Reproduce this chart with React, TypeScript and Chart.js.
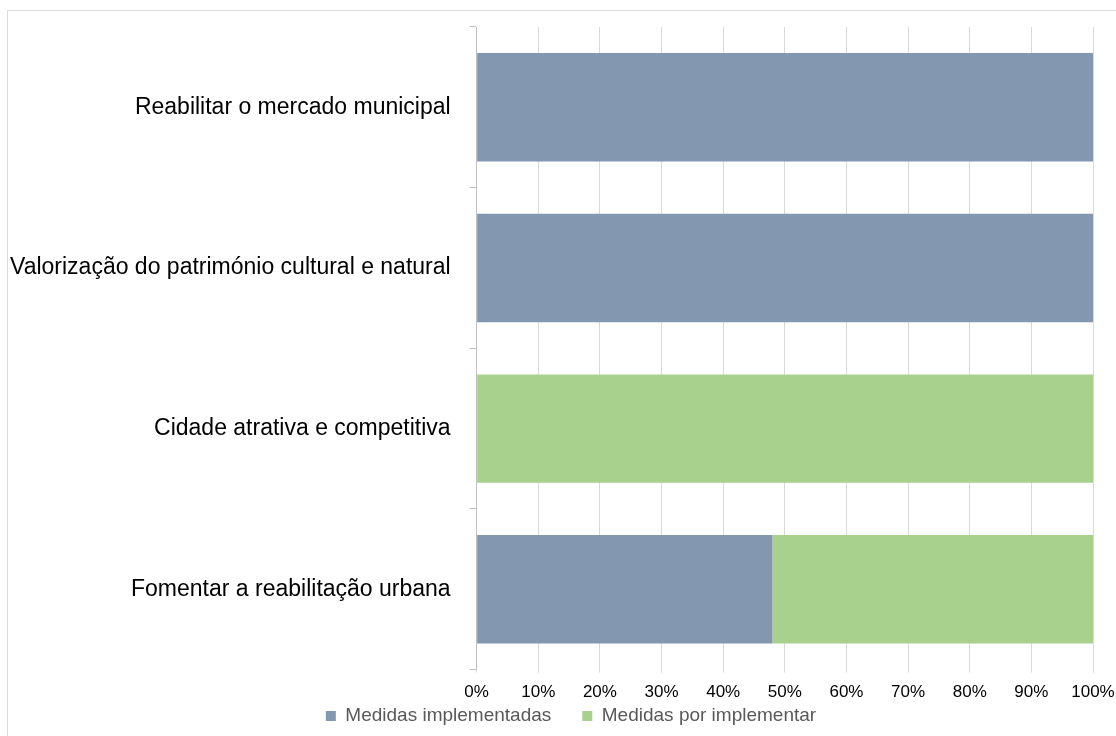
import React, { useEffect, useRef } from "react";
import { Chart, registerables } from "chart.js";

Chart.register(...registerables);

const categories = [
  "Reabilitar o mercado municipal",
  "Valorização do património cultural e natural",
  "Cidade atrativa e competitiva",
  "Fomentar a reabilitação urbana",
];
const implementadas = [100, 100, 0, 48];
const porImplementar = [0, 0, 100, 52];
const xTicks = [0, 10, 20, 30, 40, 50, 60, 70, 80, 90, 100];

const FONT = "'Liberation Sans', Arial, sans-serif";

const legendShift = {
  id: "legendShift",
  afterLayout(chart: any) {
    const l = chart.legend;
    if (l) {
      const dy = 37.5;
      const dx = 20;
      l.top -= dy;
      l.bottom -= dy;
      l.left += dx;
      l.right += dx;
    }
  },
};

export default function App() {
  const ref = useRef<HTMLCanvasElement | null>(null);
  useEffect(() => {
    if (!ref.current) return;
    const chart = new Chart(ref.current, {
      type: "bar",
      data: {
        labels: categories,
        datasets: [
          {
            label: "Medidas implementadas",
            data: implementadas,
            backgroundColor: "#8497B0",
            borderWidth: 0,
            categoryPercentage: 0.675,
            barPercentage: 1,
          },
          {
            label: "Medidas por implementar",
            data: porImplementar,
            backgroundColor: "#A9D18E",
            borderWidth: 0,
            categoryPercentage: 0.675,
            barPercentage: 1,
          },
        ],
      },
      plugins: [legendShift],
      options: {
        indexAxis: "y",
        animation: false,
        responsive: false,
        maintainAspectRatio: false,
        layout: { padding: { top: 16, left: 1, right: 23, bottom: -37 } },
        plugins: {
          legend: {
            position: "bottom",
            labels: {
              boxWidth: 10,
              boxHeight: 10,
              color: "#595959",
              font: { family: FONT, size: 19 },
              padding: 31,
            },
          },
          tooltip: { enabled: false },
        },
        scales: {
          x: {
            stacked: true,
            min: 0,
            max: 100,
            afterBuildTicks: (axis: any) => {
              axis.ticks = xTicks.map((v) => ({ value: v }));
            },
            afterFit: (axis: any) => {
              axis.paddingLeft = 0;
              axis.paddingRight = 0;
            },
            grid: {
              color: "#d9d9d9",
              drawTicks: true,
              tickLength: 3,
            },
            border: { display: false },
            ticks: {
              color: "#000000",
              font: { family: FONT, size: 17 },
              padding: 10,
              maxRotation: 0,
              callback: (v: any) => v + "%",
            },
          },
          y: {
            stacked: true,
            afterFit: (axis: any) => {
              axis.paddingTop = 0;
              axis.paddingBottom = 0;
              axis.width = axis.width - 18;
            },
            grid: {
              offset: true,
              drawOnChartArea: false,
              drawTicks: true,
              tickLength: 7,
              color: "#bfbfbf",
            },
            border: { display: true, color: "#bfbfbf" },
            ticks: {
              color: "#000000",
              font: { family: FONT, size: 23 },
              padding: 19,
            },
          },
        },
      },
    });
    return () => chart.destroy();
  }, []);
  return (
    <div
      style={{
        position: "absolute",
        left: 7,
        top: 10,
        width: 1108,
        height: 725,
        borderTop: "1px solid #d9d9d9",
        borderLeft: "1px solid #d9d9d9",
        background: "#fff",
      }}
    >
      <canvas ref={ref} width={1108} height={725} style={{ display: "block" }} />
    </div>
  );
}
